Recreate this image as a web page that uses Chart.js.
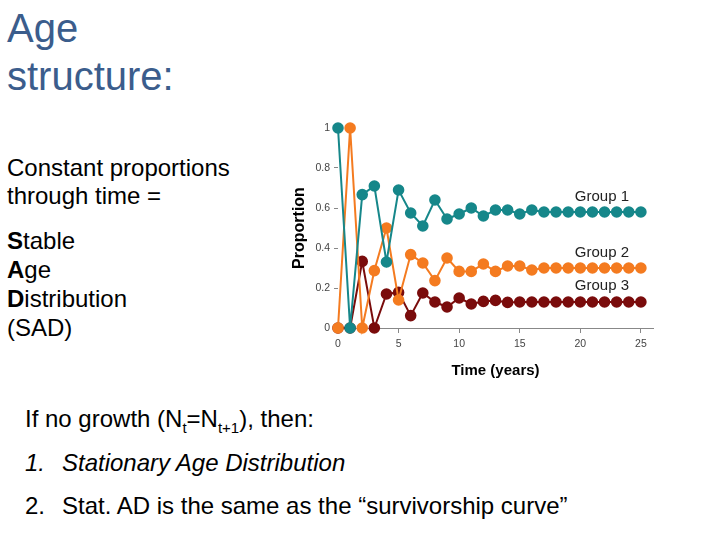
<!DOCTYPE html>
<html>
<head>
<meta charset="utf-8">
<script src="https://cdn.jsdelivr.net/npm/chart.js@4/dist/chart.umd.min.js"></script>
<style>
  body { margin: 0; width: 720px; height: 540px; background: #fff; position: relative; overflow: hidden;
         font-family: "Liberation Sans", Arial, sans-serif; }
  .txt { position: absolute; white-space: nowrap; color: #000; }
  #title { left: 7px; top: 4px; font-size: 40px; line-height: 48px; color: #3b5d8c; }
  #left1 { left: 7px; top: 154px; font-size: 24px; line-height: 28px; }
  #left2 { left: 7px; top: 226px; font-size: 24px; line-height: 29px; }
  #bottom { left: 25px; top: 397px; font-size: 24px; line-height: 43.5px; }
  #bottom sub { font-size: 15px; line-height: 0; }
  .num { display: inline-block; width: 37px; }
  #wrap { position: absolute; left: 280px; top: 110px; width: 400px; height: 280px; }
</style>
</head>
<body>
<div id="title" class="txt">Age<br>structure:</div>
<div id="left1" class="txt">Constant proportions<br>through time =</div>
<div id="left2" class="txt"><b>S</b>table<br><b>A</b>ge<br><b>D</b>istribution<br>(SAD)</div>
<div id="bottom" class="txt">If no growth (N<sub>t</sub>=N<sub>t+1</sub>), then:<br>
<i><span class="num">1.</span>Stationary Age Distribution</i><br>
<span class="num">2.</span>Stat. AD is the same as the “survivorship curve”</div>
<div id="wrap"><canvas id="grafico"></canvas></div>
<script>
// Años y proporciones por grupo de edad
const anios = [0,1,2,3,4,5,6,7,8,9,10,11,12,13,14,15,16,17,18,19,20,21,22,23,24,25];
const grupo1 = [1, 0, 0.667, 0.71, 0.33, 0.69, 0.575, 0.51, 0.64, 0.545, 0.57, 0.60, 0.56, 0.59, 0.59, 0.57, 0.59, 0.58, 0.58, 0.58, 0.58, 0.58, 0.58, 0.58, 0.58, 0.58];
const grupo2 = [0, 1, 0, 0.287, 0.50, 0.14, 0.367, 0.325, 0.237, 0.35, 0.283, 0.283, 0.32, 0.283, 0.31, 0.31, 0.29, 0.30, 0.30, 0.30, 0.30, 0.30, 0.30, 0.30, 0.30, 0.30];
const grupo3 = [0, 0, 0.333, 0, 0.17, 0.178, 0.062, 0.175, 0.13, 0.105, 0.15, 0.12, 0.133, 0.138, 0.128, 0.13, 0.13, 0.13, 0.13, 0.13, 0.13, 0.13, 0.13, 0.13, 0.13, 0.13];
const ticksX = [0, 5, 10, 15, 20, 25];
const ticksY = [0, 0.2, 0.4, 0.6, 0.8, 1];
const nombres = ['Group 1', 'Group 2', 'Group 3'];
const colores = ['#16878a', '#f47b20', '#7a0c0c'];
const etiquetaY = [0.658, 0.378, 0.21];

const serie = (datos, i) => ({
    label: nombres[i],
    data: datos.map((v, k) => ({ x: anios[k], y: v })),
    borderColor: colores[i],
    backgroundColor: colores[i],
    borderWidth: 2,
    pointRadius: 4.8,
    pointHoverRadius: 4.8,
    tension: 0,
    clip: false
});

// Etiquetas de los grupos junto a las líneas
const etiquetas = {
    id: 'etiquetas',
    afterDatasetsDraw(chart) {
        const { ctx, scales } = chart;
        ctx.save();
        ctx.font = '15px "Liberation Sans", Arial, sans-serif';
        ctx.fillStyle = '#222';
        ctx.textBaseline = 'middle';
        nombres.forEach((n, i) => {
            ctx.fillText(n, scales.x.getPixelForValue(19.55), scales.y.getPixelForValue(etiquetaY[i]));
        });
        ctx.restore();
    }
};

new Chart(document.getElementById('grafico'), {
    type: 'line',
    data: { datasets: [serie(grupo1, 0), serie(grupo2, 1), serie(grupo3, 2)] },
    options: {
        responsive: true,
        maintainAspectRatio: false,
        animation: false,
        layout: { padding: { top: 18, right: 27, left: 0, bottom: 0 } },
        plugins: { legend: { display: false }, tooltip: { enabled: false } },
        scales: {
            x: {
                type: 'linear', min: 0, max: 26,
                afterBuildTicks: s => { s.ticks = ticksX.map(v => ({ value: v })); },
                afterFit: s => { s.height = 62; },
                ticks: { color: '#444', font: { size: 10.5 }, padding: 5 },
                grid: { display: true, drawOnChartArea: false, tickLength: 5, color: '#888' },
                border: { display: true, color: '#888' },
                title: { display: true, text: 'Time (years)', color: '#000',
                         font: { size: 15, weight: 'bold' }, padding: { top: 3, bottom: 10 } }
            },
            y: {
                min: 0, max: 1,
                afterBuildTicks: s => { s.ticks = ticksY.map(v => ({ value: v })); },
                afterFit: s => { s.width = 58; },
                ticks: { color: '#444', font: { size: 10.5 }, padding: 4, callback: v => String(v) },
                grid: { display: true, drawOnChartArea: false, tickLength: 4, color: '#888' },
                border: { display: false },
                title: { display: true, text: 'Proportion', color: '#000',
                         font: { size: 16, weight: 'bold' }, padding: { top: 10, bottom: 4 } }
            }
        }
    },
    plugins: [etiquetas]
});
</script>
</body>
</html>
